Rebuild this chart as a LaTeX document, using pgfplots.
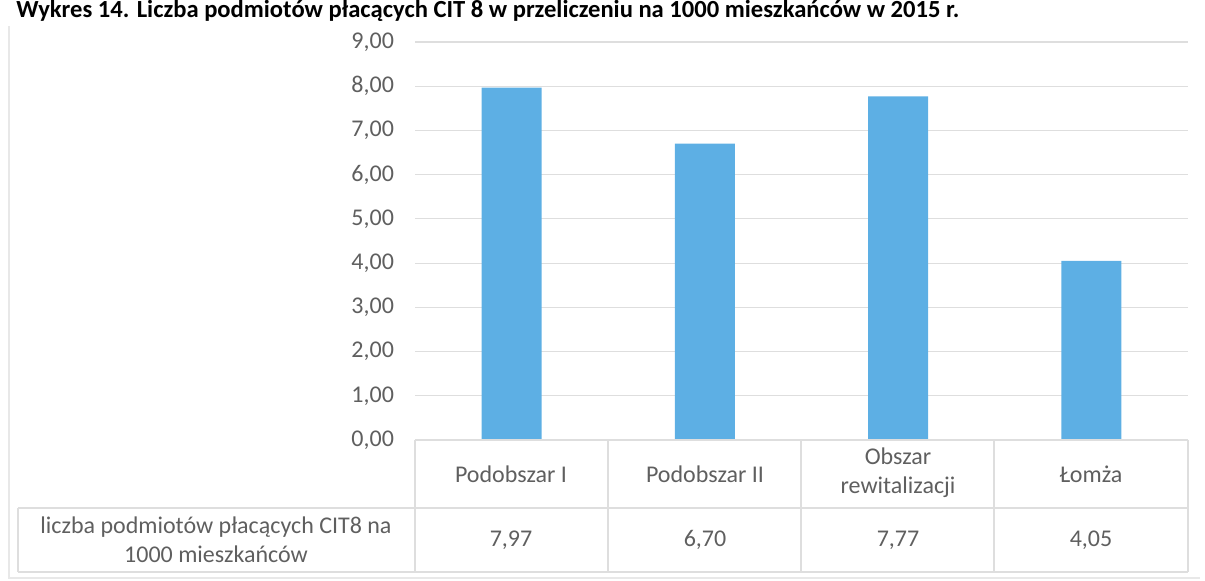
\documentclass[border=0pt]{standalone}
\usepackage{pgfplots}
\pgfplotsset{compat=1.18}
\usepackage{fontspec}
\setmainfont{Carlito}
\definecolor{barblue}{RGB}{93,175,228}
\definecolor{txt}{RGB}{95,95,95}
\definecolor{gridc}{RGB}{222,222,222}
\begin{document}
\begin{tikzpicture}
\begin{scope}[x=0.5pt,y=-0.5pt]
\useasboundingbox (0,0) rectangle (1205,581);
\node[anchor=base west,inner sep=0pt,font=\fontsize{12.3}{14}\selectfont\bfseries] at (16,18) {Wykres 14. Liczba podmiotów płacących CIT 8 w przeliczeniu na 1000 mieszkańców w 2015 r.};
\draw[gray!18,line width=0.6pt] (9,26) -- (9,578) -- (1200,578);
\end{scope}
\begin{axis}[
  at={(207.5pt,-220pt)}, anchor=south west,
  scale only axis, width=386.5pt, height=199pt,
  xmin=-0.5, xmax=3.5, ymin=0, ymax=9,
  ytick={0,1,...,9},
  /pgf/number format/fixed,
  /pgf/number format/fixed zerofill,
  /pgf/number format/precision=2,
  /pgf/number format/use comma,
  /pgf/number format/assume math mode=true,
  tick label style={font=\fontsize{12}{14}\selectfont, text=txt},
  yticklabel style={xshift=-7pt},
  xtick=\empty,
  major tick length=0pt,
  axis line style={draw=none},
  ymajorgrids, grid style={gridc, line width=0.6pt},
  clip=false,
]
\addplot[ybar, bar width=30pt, fill=barblue, draw=none] coordinates {(0,7.97) (1,6.70) (2,7.77) (3,4.05)};
\end{axis}
\begin{scope}[x=0.5pt,y=-0.5pt,font=\fontsize{12}{14.5}\selectfont,text=txt]
\draw[gridc,line width=0.6pt] (415,440) -- (1188,440);
\draw[gridc,line width=0.6pt] (18,508) -- (1188,508);
\draw[gridc,line width=0.6pt] (18,572) -- (1188,572);
\draw[gridc,line width=0.6pt] (18,508) -- (18,572);
\foreach \x in {415,608,801,994,1188} \draw[gridc,line width=0.6pt] (\x,440) -- (\x,572);
\node[align=center] at (511,474) {Podobszar I};
\node[align=center] at (705,474) {Podobszar II};
\node[align=center] at (898,473) {Obszar\\rewitalizacji};
\node[align=center] at (1091,474) {Łomża};
\node[align=center] at (216,540) {liczba podmiotów płacących CIT8 na\\1000 mieszkańców};
\node at (511,540) {7,97};
\node at (705,540) {6,70};
\node at (898,540) {7,77};
\node at (1091,540) {4,05};
\end{scope}
\end{tikzpicture}
\end{document}
